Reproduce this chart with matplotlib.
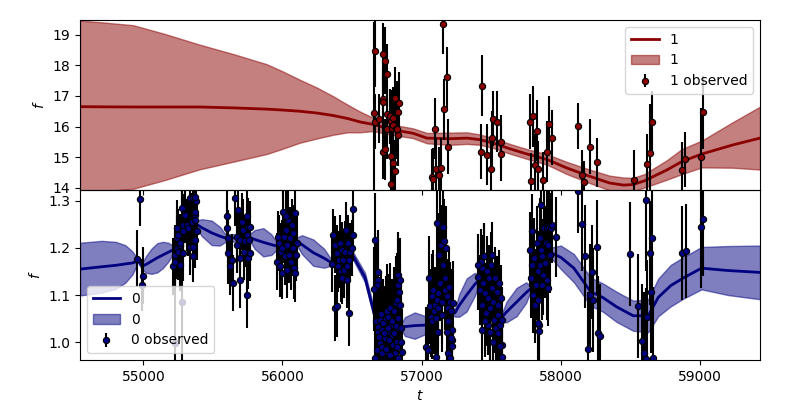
import matplotlib
matplotlib.use("Agg")
import matplotlib.pyplot as plt
import numpy as np

# ---------------- series "1" (top panel) ----------------
t1_grid = [54545, 54700, 54927, 55150, 55407, 55650, 55888, 56000, 56126, 56250,
           56365, 56470, 56557, 56650, 56794, 56937,
           57038, 57200, 57325, 57419, 57512, 57634, 57756, 57900, 58044, 58200,
           58350, 58450, 58519, 58600, 58763, 58869, 59013, 59238, 59431]
mean1 = [16.65, 16.645, 16.64, 16.64, 16.64, 16.61, 16.57, 16.54, 16.50, 16.44,
         16.36, 16.26, 16.15, 16.07, 15.89, 15.78,
         15.62, 15.60, 15.62, 15.57, 15.46, 15.27, 15.10, 14.92, 14.64, 14.38,
         14.15, 14.08, 14.10, 14.22, 14.58, 14.85, 15.10, 15.40, 15.62]
hw1 = [2.82, 2.77, 2.68, 2.40, 2.04, 1.76, 1.47, 1.27, 1.03, 0.83,
       0.63, 0.45, 0.34, 0.22, 0.17, 0.16,
       0.17, 0.20, 0.19, 0.17, 0.16, 0.16, 0.16, 0.17, 0.20, 0.22,
       0.24, 0.25, 0.22, 0.22, 0.32, 0.41, 0.44, 0.75, 1.03]

t1 = [56664, 56657, 56664, 56695, 56720, 56720, 56724, 56739, 56748, 56753,
      56724, 56739, 56753, 56772, 56777, 56789, 56796, 56796, 56806, 56815,
      56820, 56832, 56839, 56825, 56832, 56782, 56796, 56810, 56782,
      57072, 57084, 57103, 57127, 57137, 57098, 57162, 57184, 57155, 57191,
      57436, 57428, 57467, 57496, 57514, 57543, 57507, 57572, 57572,
      57780, 57802, 57830, 57814, 57837, 57787, 57874, 57902, 57917, 57934,
      58125, 58149, 58166, 58211, 58257, 58528, 58618, 58642, 58657,
      58868, 58894, 59009, 59021]
f1 = [18.48, 16.44, 16.15, 16.25, 16.91, 16.80, 18.39, 18.16, 17.72, 16.41,
      15.18, 15.26, 15.93, 16.33, 16.19, 15.95, 16.06, 16.28, 16.95, 15.93,
      16.49, 16.47, 16.77, 15.93, 15.71, 15.02, 14.80, 14.55, 14.11,
      14.36, 14.29, 14.61, 14.42, 14.64, 15.93, 16.57, 17.62, 19.36, 15.33,
      17.34, 15.17, 15.07, 14.61, 16.25, 16.15, 15.62, 15.48, 15.11,
      16.15, 16.33, 15.86, 14.74, 14.61, 14.22, 14.25, 15.17, 16.09, 15.64,
      16.02, 14.42, 14.18, 15.34, 14.83, 14.24, 14.77, 15.13, 16.15,
      14.58, 14.92, 15.01, 16.47]
e1 = [1.2, 3.0, 0.9, 0.8, 1.0, 0.9, 1.0, 1.1, 1.0, 0.9,
      0.9, 1.0, 1.0, 0.9, 1.0, 1.0, 0.9, 1.0, 1.0, 0.9,
      1.0, 0.9, 1.0, 1.0, 1.0, 1.0, 1.0, 1.0, 1.1,
      0.9, 1.0, 1.0, 0.9, 1.0, 1.0, 1.0, 1.0, 1.0, 0.9,
      1.0, 0.9, 1.0, 0.9, 0.9, 1.0, 0.9, 0.9, 0.9,
      0.9, 1.0, 1.0, 1.0, 0.9, 0.9, 0.9, 1.0, 0.9, 0.9,
      0.75, 0.8, 0.7, 0.9, 0.8, 1.0, 1.0, 1.6, 1.0,
      0.9, 0.9, 1.6, 1.2]

# ---------------- series "0" (bottom panel) ----------------
t0_grid = [54545, 54700, 54800, 54870, 54920, 54950, 54957, 54990, 55020, 55060,
           55100, 55140, 55180, 55216, 55300, 55340, 55384, 55420, 55491, 55550,
           55590, 55767, 55800, 55862, 55920, 55958, 56102, 56140, 56221, 56300,
           56345, 56509, 56593, 56664, 56700, 56856, 56880, 56950, 57020, 57045,
           57108, 57239, 57270, 57323, 57380, 57419, 57431, 57575, 57610, 57682,
           57750, 57778, 57840, 57898, 57934, 58000, 58094, 58214, 58300, 58400,
           58520, 58628, 58700, 58790, 58879, 59011, 59200, 59431]
mean0 = [1.155, 1.160, 1.163, 1.166, 1.168, 1.171, 1.177, 1.161, 1.165, 1.172,
         1.179, 1.185, 1.191, 1.196, 1.265, 1.256, 1.250, 1.243, 1.232, 1.225,
         1.221, 1.222, 1.218, 1.212, 1.207, 1.204, 1.214, 1.207, 1.190, 1.178,
         1.170, 1.182, 1.137, 1.054, 1.045, 1.033, 1.033, 1.035, 1.036, 1.037,
         1.100, 1.062, 1.078, 1.100, 1.122, 1.134, 1.136, 1.052, 1.064, 1.085,
         1.105, 1.112, 1.136, 1.185, 1.189, 1.180, 1.157, 1.107, 1.095, 1.075,
         1.056, 1.056, 1.095, 1.120, 1.136, 1.157, 1.152, 1.148]
hw0 = [0.056, 0.055, 0.050, 0.040, 0.025, 0.010, 0.006, 0.006, 0.018, 0.027,
       0.031, 0.028, 0.020, 0.008, 0.008, 0.008, 0.008, 0.018, 0.026, 0.020,
       0.008, 0.008, 0.020, 0.030, 0.022, 0.008, 0.008, 0.020, 0.028, 0.020,
       0.008, 0.008, 0.010, 0.010, 0.008, 0.008, 0.020, 0.028, 0.020, 0.008,
       0.008, 0.008, 0.024, 0.035, 0.025, 0.008, 0.008, 0.008, 0.022, 0.030,
       0.022, 0.008, 0.008, 0.008, 0.012, 0.025, 0.030, 0.030, 0.030, 0.032,
       0.032, 0.035, 0.040, 0.044, 0.044, 0.045, 0.052, 0.057]

t0 = [
    # ~55000
    54957, 54978, 54996, 54993,
    # ~55300
    55216, 55228, 55228, 55240, 55240, 55251, 55240, 55251, 55264, 55264,
    55276, 55287, 55264, 55287, 55287, 55302, 55312, 55323, 55335, 55335,
    55348, 55359, 55359, 55371, 55371, 55371, 55359, 55371, 55384, 55379,
    55371, 55230, 55280,
    # ~55700
    55599, 55599, 55611, 55611, 55623, 55635, 55647, 55659, 55671, 55671,
    55682, 55695, 55695, 55695, 55707, 55718, 55723, 55731, 55743, 55743,
    55754, 55754, 55748, 55760, 55765, 55770,
    # ~56050
    55958, 55970, 55975, 55982, 55988, 55994, 56000, 56006, 56012, 56018,
    56024, 56030, 56035, 56042, 56048, 56054, 56060, 56066, 56072, 56078,
    56082, 56090, 56094, 56102, 56090, 56024,
    # ~56450
    56353, 56365, 56377, 56380, 56389, 56395, 56401, 56407, 56413, 56419,
    56425, 56431, 56437, 56443, 56449, 56455, 56461, 56467, 56473, 56479,
    56485, 56480, 56497, 56503, 56509,
    # ~56750
    56664, 56684, 56688, 56677, 56660, 56669, 56700, 56684, 56688, 56713,
    56724, 56736, 56700, 56677, 56713, 56741, 56749, 56760, 56772, 56765,
    56779, 56784, 56796, 56808, 56820, 56828, 56832, 56832, 56837, 56832,
    56813, 56844, 56803, 56820, 56844, 56756, 56772, 56664, 56832, 56695,
    56705, 56718, 56730, 56745, 56755, 56768, 56790, 56800, 56815, 56825,
    56850, 56855, 56860,
    # ~57150
    57053, 57060, 57067, 57072, 57076, 57084, 57091, 57096, 57100, 57108,
    57115, 57119, 57124, 57131, 57139, 57144, 57148, 57155, 57162, 57167,
    57167, 57172, 57179, 57187, 57191, 57196, 57203, 57210, 57215, 57220,
    57227, 57131, 57155, 57115, 57179, 57029, 57043, 57191, 57220, 57210,
    57108, 57100, 57200,
    # ~57500
    57407, 57419, 57426, 57431, 57436, 57443, 57450, 57455, 57460, 57467,
    57474, 57478, 57483, 57491, 57498, 57503, 57507, 57514, 57522, 57527,
    57532, 57539, 57546, 57550, 57555, 57563, 57570, 57575, 57579, 57455,
    57491, 57407, 57436, 57491, 57550, 57563, 57575, 57510, 57450,
    # ~57870
    57778, 57785, 57790, 57795, 57802, 57809, 57814, 57819, 57826, 57833,
    57838, 57843, 57850, 57850, 57857, 57862, 57866, 57874, 57881, 57886,
    57891, 57898, 57898, 57905, 57910, 57914, 57922, 57929, 57934, 57963,
    57833, 57843, 57855,
    # sparse
    58125, 58149, 58173, 58197, 58211, 58226, 58233, 58257, 58264, 58281,
    58499, 58552, 58580, 58597, 58611, 58620, 58642, 58645, 58652, 58611,
    58660, 58868, 58896, 59009, 59023]
f0 = [
    1.177, 1.304, 1.141, 1.122,
    1.161, 1.171, 1.185, 1.200, 1.221, 1.228, 1.242, 1.192, 1.207, 1.210,
    1.284, 1.189, 1.164, 1.249, 1.235, 1.270, 1.249, 1.242, 1.306, 1.203,
    1.256, 1.203, 1.306, 1.270, 1.277, 1.260, 1.182, 1.217, 1.235, 1.299,
    1.309, 0.998, 1.085,
    1.267, 1.242, 1.221, 1.189, 1.161, 1.175, 1.125, 1.306, 1.224, 1.207,
    1.281, 1.217, 1.178, 1.132, 1.256, 1.238, 1.192, 1.214, 1.267, 1.228,
    1.178, 1.245, 1.100, 1.217, 1.245, 1.189,
    1.171, 1.224, 1.210, 1.161, 1.192, 1.146, 1.200, 1.277, 1.224, 1.182,
    1.238, 1.153, 1.207, 1.260, 1.185, 1.221, 1.171, 1.249, 1.200, 1.231,
    1.157, 1.274, 1.185, 1.210, 1.146, 1.267,
    1.166, 1.228, 1.207, 1.072, 1.076, 1.189, 1.161, 1.175, 1.210, 1.150,
    1.196, 1.136, 1.175, 1.153, 1.192, 1.238, 1.161, 1.132, 1.210, 1.175,
    1.192, 1.062, 1.200, 1.228, 1.282,
    1.217, 1.149, 1.132, 1.122, 1.113, 1.044, 1.047, 1.033, 1.022, 1.026,
    1.040, 1.008, 0.998, 0.984, 0.977, 1.051, 1.065, 1.054, 1.072, 1.022,
    1.037, 1.016, 0.994, 0.977, 1.001, 1.030, 1.051, 1.122, 1.107, 1.143,
    1.083, 1.132, 1.065, 1.090, 1.079, 0.977, 0.973, 0.967, 0.967, 1.010,
    1.060, 0.990, 1.020, 0.985, 1.030, 1.005, 1.045, 1.020, 1.035, 0.990,
    1.000, 1.030, 0.980,
    1.136, 1.076, 1.054, 1.097, 1.044, 1.111, 1.065, 1.079, 1.051, 1.090,
    1.104, 1.072, 1.185, 1.125, 1.207, 1.086, 1.058, 1.164, 1.214, 1.136,
    1.111, 1.200, 1.097, 1.072, 1.044, 1.118, 1.086, 1.065, 1.026, 1.005,
    1.083, 1.249, 1.245, 1.022, 1.022, 0.989, 0.984, 0.977, 0.991, 1.008,
    1.253, 0.968, 0.966,
    1.139, 1.111, 1.171, 1.079, 1.157, 1.125, 1.182, 1.104, 1.062, 1.150,
    1.093, 1.037, 1.136, 1.072, 1.164, 1.115, 1.184, 1.086, 1.047, 1.136,
    1.030, 1.107, 1.058, 1.079, 1.125, 1.037, 1.093, 0.994, 1.047, 1.044,
    1.019, 1.164, 1.026, 1.022, 1.019, 0.991, 0.969, 1.001, 1.182,
    1.196, 1.136, 1.235, 1.164, 1.100, 1.178, 1.079, 1.122, 1.210, 1.150,
    1.090, 1.037, 1.164, 1.221, 1.196, 1.122, 1.182, 1.143, 1.242, 1.168,
    1.210, 1.132, 1.242, 1.207, 1.115, 1.245, 1.185, 1.242, 1.249, 1.224,
    1.040, 1.024, 1.292,
    1.321, 1.251, 1.182, 0.986, 1.099, 1.149, 1.090, 1.202, 1.020, 1.013,
    1.187, 1.077, 1.003, 0.977, 1.302, 1.054, 1.189, 1.106, 1.222, 0.965,
    0.966, 1.190, 1.194, 1.244, 1.261]
e0 = [
    0.060, 0.058, 0.060, 0.055,
    0.060, 0.055, 0.060, 0.065, 0.060, 0.055, 0.060, 0.060, 0.065, 0.055,
    0.060, 0.060, 0.055, 0.065, 0.060, 0.060, 0.055, 0.060, 0.065, 0.060,
    0.060, 0.055, 0.060, 0.065, 0.060, 0.060, 0.055, 0.060, 0.060, 0.065,
    0.060, 0.250, 0.250,
    0.060, 0.055, 0.060, 0.065, 0.060, 0.055, 0.060, 0.060, 0.055, 0.060,
    0.065, 0.060, 0.055, 0.060, 0.060, 0.065, 0.060, 0.055, 0.060, 0.060,
    0.065, 0.060, 0.070, 0.060, 0.055, 0.060,
    0.060, 0.055, 0.060, 0.065, 0.060, 0.055, 0.060, 0.060, 0.055, 0.060,
    0.065, 0.060, 0.055, 0.060, 0.060, 0.065, 0.060, 0.055, 0.060, 0.060,
    0.065, 0.060, 0.055, 0.060, 0.060, 0.065,
    0.060, 0.055, 0.060, 0.070, 0.065, 0.060, 0.055, 0.060, 0.060, 0.065,
    0.060, 0.055, 0.060, 0.060, 0.065, 0.060, 0.055, 0.060, 0.060, 0.065,
    0.060, 0.070, 0.060, 0.055, 0.060,
    0.100, 0.090, 0.100, 0.095, 0.090, 0.100, 0.090, 0.095, 0.100, 0.090,
    0.095, 0.100, 0.090, 0.100, 0.095, 0.090, 0.100, 0.090, 0.095, 0.100,
    0.090, 0.095, 0.100, 0.090, 0.095, 0.100, 0.090, 0.100, 0.095, 0.090,
    0.100, 0.090, 0.095, 0.100, 0.090, 0.095, 0.100, 0.090, 0.095, 0.100,
    0.090, 0.095, 0.100, 0.090, 0.095, 0.100, 0.090, 0.095, 0.100, 0.090,
    0.095, 0.100, 0.090,
    0.090, 0.080, 0.085, 0.090, 0.080, 0.085, 0.090, 0.080, 0.085, 0.090,
    0.080, 0.085, 0.090, 0.080, 0.085, 0.090, 0.080, 0.085, 0.090, 0.080,
    0.085, 0.090, 0.080, 0.085, 0.090, 0.080, 0.085, 0.090, 0.080, 0.085,
    0.090, 0.080, 0.085, 0.090, 0.080, 0.085, 0.090, 0.080, 0.085, 0.090,
    0.080, 0.085, 0.090,
    0.070, 0.075, 0.070, 0.065, 0.070, 0.075, 0.070, 0.065, 0.070, 0.075,
    0.070, 0.065, 0.070, 0.075, 0.070, 0.065, 0.070, 0.075, 0.070, 0.065,
    0.070, 0.075, 0.070, 0.065, 0.070, 0.075, 0.070, 0.065, 0.070, 0.075,
    0.070, 0.065, 0.070, 0.075, 0.070, 0.065, 0.070, 0.075, 0.070,
    0.080, 0.085, 0.080, 0.075, 0.080, 0.085, 0.080, 0.075, 0.080, 0.085,
    0.080, 0.075, 0.080, 0.085, 0.080, 0.075, 0.080, 0.085, 0.080, 0.075,
    0.080, 0.085, 0.080, 0.075, 0.080, 0.085, 0.080, 0.075, 0.080, 0.085,
    0.080, 0.075, 0.080,
    0.090, 0.100, 0.110, 0.120, 0.110, 0.100, 0.110, 0.100, 0.120, 0.110,
    0.110, 0.110, 0.120, 0.130, 0.150, 0.120, 0.110, 0.130, 0.120, 0.150,
    0.150, 0.100, 0.100, 0.130, 0.120]

xlim = (54545, 59431)
ylim1 = (13.92, 19.49)
ylim0 = (0.962, 1.323)

fig, (ax1, ax0) = plt.subplots(2, 1, sharex=True, figsize=(8, 4), dpi=100)
fig.subplots_adjust(left=0.1, right=0.95, top=0.95, bottom=0.1, hspace=0)


def panel(ax, tg, m, hw, t, f, e, color, name, loc):
    m = np.asarray(m)
    hw = np.asarray(hw)
    ax.plot(tg, m, color=color, lw=2, label=name)
    ax.fill_between(tg, m - hw, m + hw, color=color, alpha=0.5, label=name)
    ax.errorbar(t, f, yerr=e, fmt='o', color=color, ecolor='k', mec='k',
                ms=4.5, mew=0.8, label=name + ' observed')
    ax.legend(loc=loc)
    ax.set_ylabel('$f$')


panel(ax1, t1_grid, mean1, hw1, t1, f1, e1, 'darkred', '1', 'upper right')
panel(ax0, t0_grid, mean0, hw0, t0, f0, e0, 'navy', '0', 'lower left')

ax1.set_ylim(*ylim1)
ax0.set_ylim(*ylim0)
ax0.set_xlim(*xlim)
ax0.set_xlabel('$t$')
ax0.set_yticks([1.0, 1.1, 1.2, 1.3])
ax0.patch.set_facecolor('none')

fig.savefig('out.png', dpi=100)
